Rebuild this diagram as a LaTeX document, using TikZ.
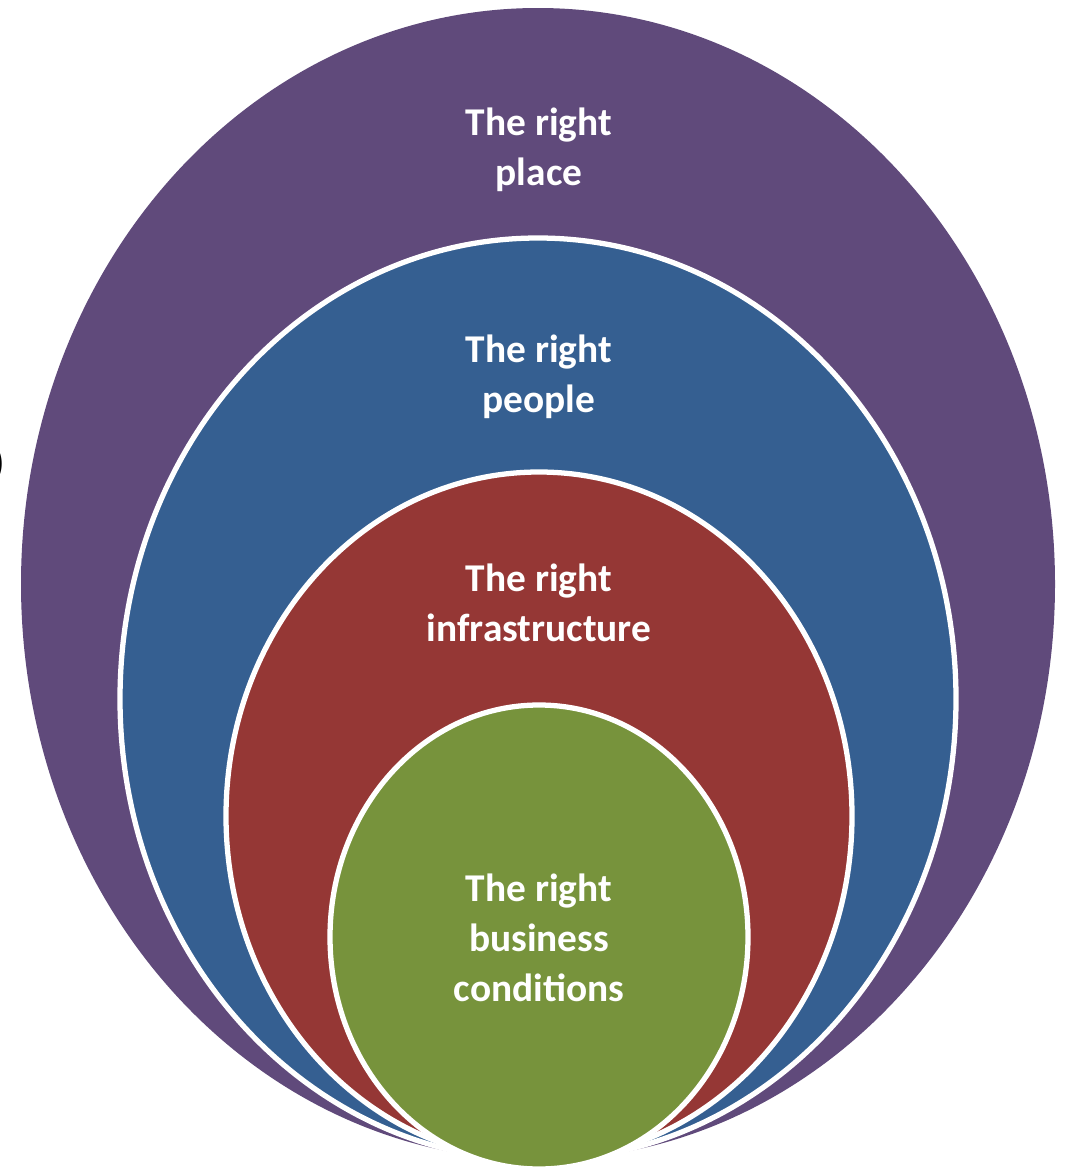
\documentclass[tikz,border=0pt]{standalone}
\usepackage{fontspec}
\setmainfont{Carlito}
\definecolor{placepurple}{HTML}{604A7B}
\definecolor{peopleblue}{HTML}{355F91}
\definecolor{infrared}{HTML}{953735}
\definecolor{bizgreen}{HTML}{77933C}
\begin{document}
\begin{tikzpicture}[
    ring/.style={draw=white,line width=1.5pt},
    ringtext/.style={text=white,align=center,font=\bfseries\fontsize{11.2}{14.2}\selectfont}]
  \useasboundingbox (0,0) rectangle (10.7,-11.72);
  % nested rings, all touching at the bottom
  \fill[placepurple] (5.38,-5.84) ellipse [x radius=5.17, y radius=5.76];
  \filldraw[ring,fill=peopleblue] (5.38,-6.99) ellipse [x radius=4.18, y radius=4.61];
  \filldraw[ring,fill=infrared] (5.39,-8.16) ellipse [x radius=3.13, y radius=3.44];
  \filldraw[ring,fill=bizgreen] (5.39,-9.37) ellipse [x radius=2.09, y radius=2.32];
  % labels
  \node[ringtext] (place) at (5.39,-1.50) {The right\\place};
  \node[ringtext] (people) at (5.39,-3.77) {The right\\people};
  \node[ringtext] (infra) at (5.39,-6.03) {The right\\infrastructure};
  \node[ringtext] (business) at (5.39,-9.38) {The right\\business\\conditions};
  \node[font=\bfseries\fontsize{11}{13}\selectfont,inner sep=0pt] (cut) at (-0.01,-4.64) {)};
\end{tikzpicture}
\end{document}
